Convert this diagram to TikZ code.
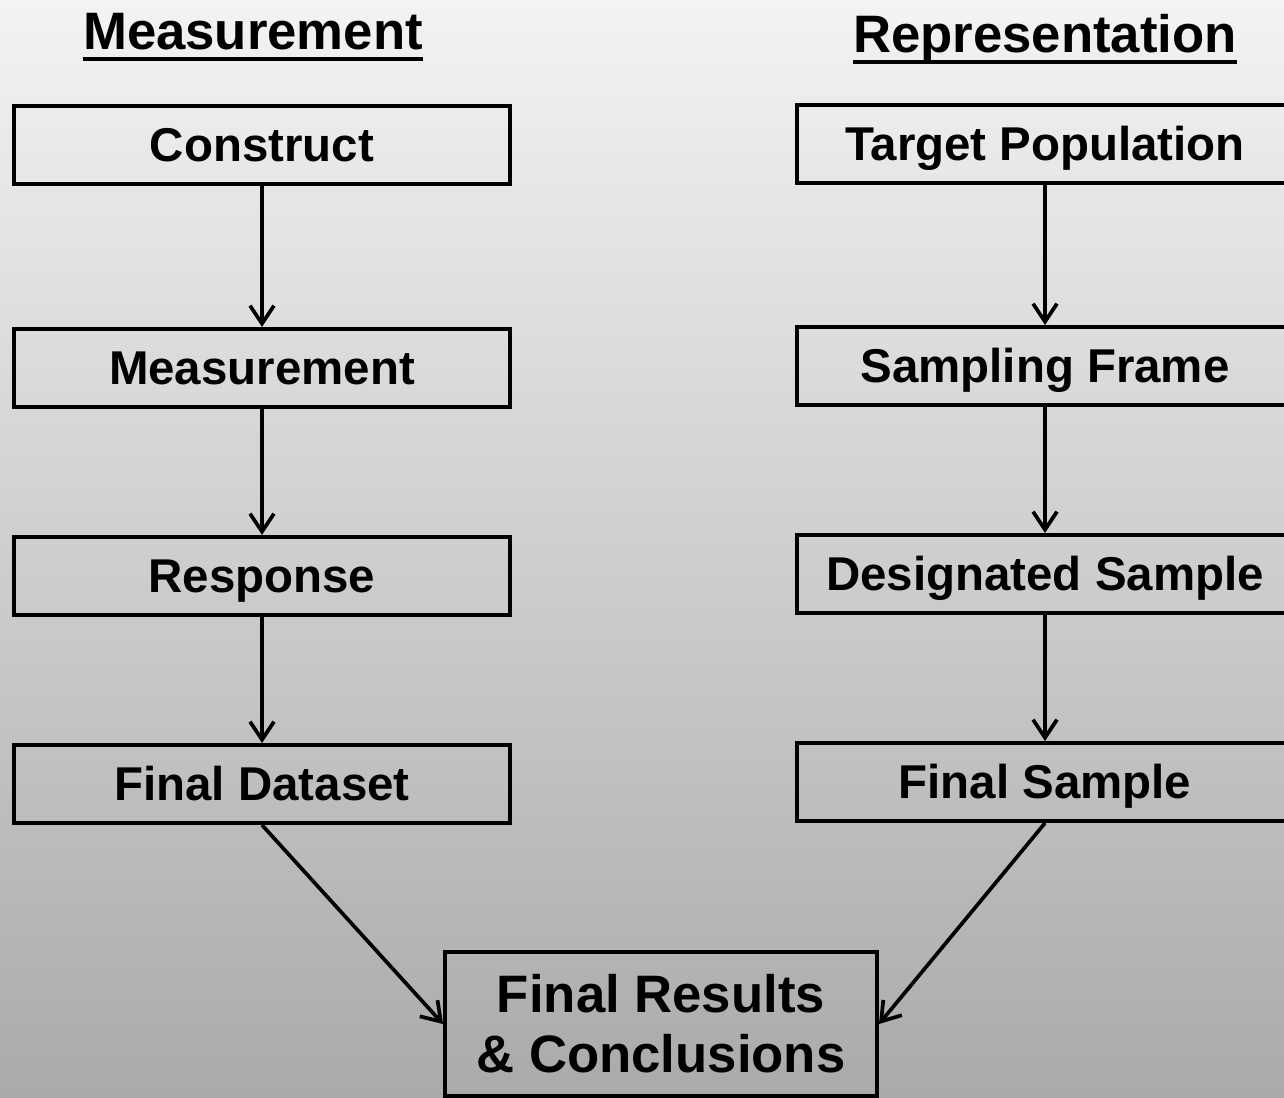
\documentclass[tikz,border=0pt]{standalone}
\usepackage{fontspec}
\setmainfont{Liberation Sans}
\usetikzlibrary{arrows.meta}
\definecolor{bgtop}{RGB}{243,243,243}
\definecolor{bgbot}{RGB}{170,170,170}
\tikzset{
  boxline/.style={draw=black,line width=2.3pt,inner sep=0pt},
  stagebox/.style={boxline,minimum width=9.92cm,minimum height=1.56cm,text height=19.3pt,text depth=0pt,font=\fontsize{27}{32}\selectfont\bfseries},
  headtext/.style={anchor=base,inner sep=0pt,font=\fontsize{30}{36}\selectfont\bfseries},
  headline/.style={line width=2.3pt},
  flow/.style={line width=2.1pt,-{Straight Barb[length=0.36cm,width=0.48cm,line width=2.1pt]}}
}
\begin{document}
\begin{tikzpicture}[x=0.02cm,y=-0.02cm]
		\useasboundingbox (0,0) rectangle (1284,1098);
		\clip (0,0) rectangle (1284,1098);
		\shade[top color=bgtop,bottom color=bgbot] (0,0) rectangle (1284,1098);
		% headings
		\node[headtext] (hmeas) at (253,50) {Measurement};
		\node[headtext] (hrep) at (1045,53) {Representation};
		\draw[headline] ([yshift=-5pt]hmeas.base west) -- ([yshift=-5pt]hmeas.base east);
		\draw[headline] ([yshift=-5pt]hrep.base west) -- ([yshift=-5pt]hrep.base east);
		% measurement side
		\node[stagebox] (con) at (262,145) {Construct};
		\node[stagebox] (mea) at (262,368) {Measurement};
		\node[stagebox] (res) at (262,576) {Response};
		\node[stagebox] (fds) at (262,784) {Final Dataset};
		% representation side
		\node[stagebox] (tpop) at (1045,144) {Target Population};
		\node[stagebox] (sfr) at (1045,366) {Sampling Frame};
		\node[stagebox] (dsa) at (1045,574) {Designated Sample};
		\node[stagebox] (fsa) at (1045,782) {Final Sample};
		% results
		\node[boxline,minimum width=8.64cm,minimum height=2.9cm,align=center,font=\fontsize{30}{34}\selectfont\bfseries] (fres) at (661,1024) {Final Results\\\& Conclusions};
		\draw[flow] (con) -- (mea);
		\draw[flow] (mea) -- (res);
		\draw[flow] (res) -- (fds);
		\draw[flow] (tpop) -- (sfr);
		\draw[flow] (sfr) -- (dsa);
		\draw[flow] (dsa) -- (fsa);
		\draw[flow] (fds.south) -- (fres.west);
		\draw[flow] (fsa.south) -- (fres.east);
		
		\end{tikzpicture}
\end{document}
